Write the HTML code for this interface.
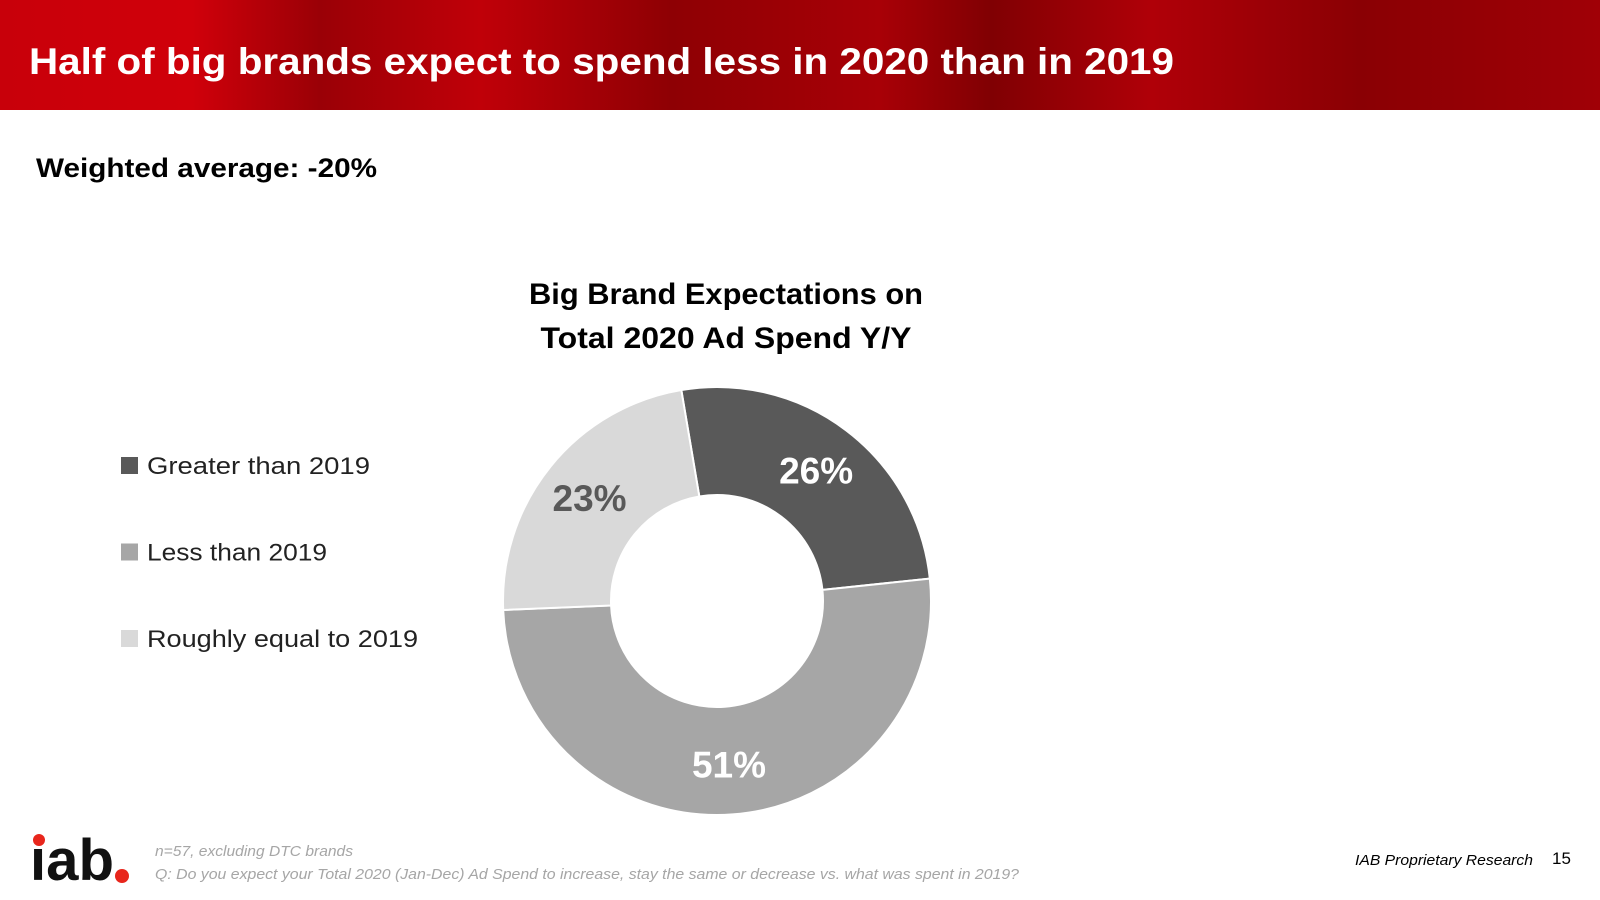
<!DOCTYPE html>
<html><head><meta charset="utf-8"><style>
html,body{margin:0;padding:0;background:#fff}
svg{display:block}
text{font-family:"Liberation Sans",sans-serif}
</style></head><body>
<svg width="1600" height="900" viewBox="0 0 1600 900" xmlns="http://www.w3.org/2000/svg">
<defs>
<linearGradient id="hdr" x1="0" y1="0" x2="1" y2="0">
<stop offset="0" stop-color="#c8000a"/><stop offset="0.12" stop-color="#d0000a"/>
<stop offset="0.2" stop-color="#9a0006"/><stop offset="0.3" stop-color="#c00008"/>
<stop offset="0.42" stop-color="#8e0004"/><stop offset="0.55" stop-color="#a80006"/>
<stop offset="0.62" stop-color="#800003"/><stop offset="0.72" stop-color="#b00008"/>
<stop offset="0.85" stop-color="#8a0004"/><stop offset="1" stop-color="#a00006"/>
</linearGradient>
</defs>
<rect x="0" y="0" width="1600" height="110" fill="url(#hdr)"/>
<text x="29" y="74" font-size="37" font-weight="bold" fill="#fff" textLength="1145" lengthAdjust="spacingAndGlyphs">Half of big brands expect to spend less in 2020 than in 2019</text>
<text x="36" y="177" font-size="27" font-weight="bold" fill="#000" textLength="341" lengthAdjust="spacingAndGlyphs">Weighted average:  -20%</text>
<text x="726" y="304" font-size="30" font-weight="bold" fill="#000" text-anchor="middle" textLength="394" lengthAdjust="spacingAndGlyphs">Big Brand Expectations on</text>
<text x="726" y="348" font-size="30" font-weight="bold" fill="#000" text-anchor="middle" textLength="371" lengthAdjust="spacingAndGlyphs">Total 2020 Ad Spend Y/Y</text>
<g id="legend"></g>
<g id="donut"></g>
<g>
<text x="30" y="880" font-size="58" font-weight="bold" fill="#111" textLength="84" lengthAdjust="spacingAndGlyphs">iab</text>
<circle cx="122" cy="876" r="7" fill="#e8261c"/>
<circle cx="39" cy="840" r="6" fill="#e8261c"/>
</g>
<text x="155" y="856" font-size="15" font-style="italic" fill="#a6a6a6" textLength="198" lengthAdjust="spacingAndGlyphs">n=57, excluding DTC brands</text>
<text x="155" y="879" font-size="15" font-style="italic" fill="#a6a6a6" textLength="864" lengthAdjust="spacingAndGlyphs">Q: Do you expect your Total 2020 (Jan-Dec) Ad Spend to increase, stay the same or decrease vs. what was spent in 2019?</text>
<text x="1533" y="865" font-size="15" font-style="italic" fill="#000" text-anchor="end" textLength="178" lengthAdjust="spacingAndGlyphs">IAB Proprietary Research</text>
<text x="1552" y="864" font-size="17" fill="#000">15</text>
</svg>
<script>
const categories = ["Greater than 2019", "Less than 2019", "Roughly equal to 2019"];
const values = [26, 51, 23];
const valueLabels = ["26%", "51%", "23%"];
const colors = ["#595959", "#a6a6a6", "#d9d9d9"];
const labelColors = ["#ffffff", "#ffffff", "#595959"];
const legendWidths = [223, 180, 271];
const NS = "http://www.w3.org/2000/svg";
const cx = 717, cy = 601, R = 214, r = 106, startDeg = -9.6;
const donut = document.getElementById("donut");
const total = values.reduce((a, b) => a + b, 0);
function pt(deg, rad) { const a = (deg - 90) * Math.PI / 180; return [cx + rad * Math.cos(a), cy + rad * Math.sin(a)]; }
let acc = startDeg;
values.forEach((v, i) => {
  const sweep = v / total * 360, a0 = acc, a1 = acc + sweep; acc = a1;
  const large = sweep > 180 ? 1 : 0;
  const [x0, y0] = pt(a0, R), [x1, y1] = pt(a1, R), [x2, y2] = pt(a1, r), [x3, y3] = pt(a0, r);
  const p = document.createElementNS(NS, "path");
  p.setAttribute("d", `M${x0},${y0} A${R},${R} 0 ${large} 1 ${x1},${y1} L${x2},${y2} A${r},${r} 0 ${large} 0 ${x3},${y3} Z`);
  p.setAttribute("fill", colors[i]);
  p.setAttribute("stroke", "#fff");
  p.setAttribute("stroke-width", "2");
  
  
  donut.appendChild(p);
  const mid = (a0 + a1) / 2;
  const [lx, ly] = pt(mid, (R + r) / 2 + 4);
  const t = document.createElementNS(NS, "text");
  t.setAttribute("x", lx); t.setAttribute("y", ly + 13);
  t.setAttribute("text-anchor", "middle");
  t.setAttribute("font-size", "37"); t.setAttribute("font-weight", "bold");
  t.setAttribute("fill", labelColors[i]);
  t.textContent = valueLabels[i];
  
  
  donut.appendChild(t);
});
const legend = document.getElementById("legend");
categories.forEach((c, i) => {
  const y = 474 + i * 86.5;
  const s = document.createElementNS(NS, "rect");
  s.setAttribute("x", 121); s.setAttribute("y", y - 17); s.setAttribute("width", 17); s.setAttribute("height", 17);
  s.setAttribute("fill", colors[i]);
  
  
  legend.appendChild(s);
  const t = document.createElementNS(NS, "text");
  t.setAttribute("x", 147); t.setAttribute("y", y);
  t.setAttribute("font-size", "24"); t.setAttribute("fill", "#222");
  t.setAttribute("textLength", legendWidths[i]);
  t.setAttribute("lengthAdjust", "spacingAndGlyphs");
  t.textContent = c;
  
  
  legend.appendChild(t);
});
</script>
</body></html>
